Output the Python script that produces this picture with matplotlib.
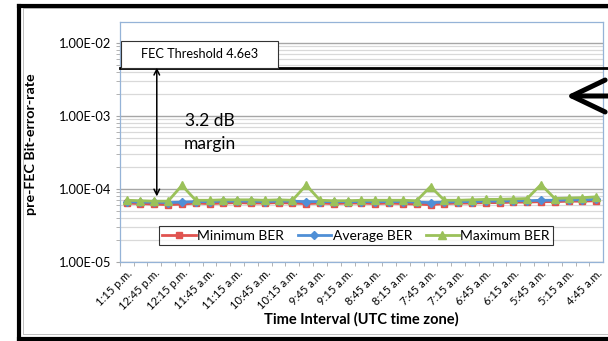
import numpy as np
import matplotlib.pyplot as plt
from matplotlib.lines import Line2D
from matplotlib.ticker import FixedLocator, NullFormatter
from matplotlib.patches import Rectangle

plt.rcParams['font.family'] = ['Lato', 'DejaVu Sans']

# 15-minute intervals, newest first
time_labels = [
    "1:15 p.m.", "1:00 p.m.", "12:45 p.m.", "12:30 p.m.", "12:15 p.m.", "12:00 p.m.",
    "11:45 a.m.", "11:30 a.m.", "11:15 a.m.", "11:00 a.m.", "10:45 a.m.", "10:30 a.m.",
    "10:15 a.m.", "10:00 a.m.", "9:45 a.m.", "9:30 a.m.", "9:15 a.m.", "9:00 a.m.",
    "8:45 a.m.", "8:30 a.m.", "8:15 a.m.", "8:00 a.m.", "7:45 a.m.", "7:30 a.m.",
    "7:15 a.m.", "7:00 a.m.", "6:45 a.m.", "6:30 a.m.", "6:15 a.m.", "6:00 a.m.",
    "5:45 a.m.", "5:30 a.m.", "5:15 a.m.", "5:00 a.m.", "4:45 a.m.",
]

min_ber = np.array([
    6.4, 6.3, 6.2, 6.1, 6.2, 6.4, 6.3, 6.4, 6.5, 6.4, 6.4, 6.5,
    6.4, 6.3, 6.4, 6.3, 6.4, 6.4, 6.3, 6.4, 6.3, 6.2, 6.1, 6.3,
    6.4, 6.4, 6.5, 6.5, 6.6, 6.6, 6.7, 6.7, 6.8, 6.8, 6.9,
]) * 1e-5

avg_ber = np.array([
    6.7, 6.6, 6.6, 6.5, 6.6, 6.7, 6.7, 6.8, 6.8, 6.8, 6.7, 6.8,
    6.8, 6.7, 6.7, 6.7, 6.7, 6.7, 6.7, 6.7, 6.7, 6.6, 6.5, 6.6,
    6.7, 6.7, 6.8, 6.8, 6.9, 6.9, 7.0, 7.0, 7.1, 7.1, 7.2,
]) * 1e-5

max_ber = np.array([
    7.0, 6.9, 6.8, 6.8, 11.2, 7.0, 7.0, 7.1, 7.1, 7.1, 7.0, 7.1,
    7.0, 11.3, 7.0, 6.9, 6.9, 7.0, 7.0, 7.0, 7.0, 6.9, 10.8, 7.0,
    7.0, 7.1, 7.2, 7.2, 7.3, 7.4, 11.5, 7.4, 7.5, 7.6, 7.8,
]) * 1e-5

fec_threshold = 4.6e-3

x = np.arange(len(time_labels))

fig = plt.figure(figsize=(6.08, 3.41), dpi=100)
ax = fig.add_axes([0.197, 0.232, 0.795, 0.703])

ax.set_yscale('log')
ax.set_ylim(1e-5, 1.94e-2)
ax.set_xlim(-0.5, len(x) - 0.5)

# gridlines
ax.yaxis.set_minor_locator(FixedLocator(
    [m * 10.0 ** e for e in range(-5, -1) for m in range(2, 10)]))
ax.yaxis.set_minor_formatter(NullFormatter())
ax.grid(True, which='major', axis='y', color='#a6a6a6', lw=1.0, zorder=0)
ax.grid(True, which='minor', axis='y', color='#d9d9d9', lw=0.9, zorder=0)
ax.set_yticks([1e-5, 1e-4, 1e-3, 1e-2])
ax.set_yticklabels(["1.00E-05", "1.00E-04", "1.00E-03", "1.00E-02"], fontsize=9.3)

ax.set_xticks(x[::2])
ax.set_xticklabels(time_labels[::2], rotation=45, ha='right',
                   rotation_mode='anchor', fontsize=8)
ax.set_xticks(x - 0.5, minor=True)
ax.tick_params(axis='x', which='major', length=0, pad=4)
ax.tick_params(axis='x', which='minor', length=3, color='#a6a6a6')
ax.tick_params(axis='y', which='both', length=3, color='#a6a6a6', pad=3)

for s in ax.spines.values():
    s.set_color('#95b3d7')
    s.set_linewidth(0.9)

ax.plot(x, min_ber, color='#e0534f', lw=2, marker='s', ms=5,
        mec='#e0534f', label='Minimum BER', zorder=3)
ax.plot(x, avg_ber, color='#4f8fd6', lw=2, marker='D', ms=4.5,
        mec='#4f8fd6', label='Average BER', zorder=4)
ax.plot(x, max_ber, color='#9bc15a', lw=2, marker='^', ms=6,
        mec='#9bc15a', label='Maximum BER', zorder=5)

ax.set_ylabel("pre-FEC Bit-error-rate", fontsize=10.3, fontweight='bold')
ax.yaxis.set_label_coords(-0.172, 0.49)
ax.set_xlabel("Time Interval (UTC time zone)", fontsize=10.5, fontweight='bold', labelpad=0)

leg = ax.legend(loc='center', bbox_to_anchor=(0.489, 0.11), ncol=3,
                fontsize=10, frameon=True, fancybox=False, handlelength=2.4,
                handletextpad=0.1, columnspacing=1.0, borderpad=0.25)
leg.get_frame().set_edgecolor('black')
leg.get_frame().set_linewidth(0.8)

# FEC threshold line running out past the plot area
ax.plot([0, 1.01], [fec_threshold, fec_threshold], color='black', lw=2,
        transform=ax.get_yaxis_transform(), clip_on=False, zorder=6)
ax.add_patch(Rectangle((-0.42, fec_threshold), 11.37, 1.065e-2 - fec_threshold,
                       facecolor='white', edgecolor='#333333', lw=0.8, zorder=6))
ax.text(5.25, 7.0e-3, "FEC Threshold 4.6e3", ha='center', va='center',
        fontsize=9.2, zorder=7)

# margin arrow
ax.annotate("", xy=(2.18, 7.9e-5), xytext=(2.18, fec_threshold),
            arrowprops=dict(arrowstyle='<->', color='black', lw=1.1,
                            shrinkA=0, shrinkB=0), zorder=7)
ax.text(6.0, 8.6e-4, "3.2 dB", ha='center', va='center', fontsize=12.5)
ax.text(6.0, 4.1e-4, "margin", ha='center', va='center', fontsize=12.5)

# pointer arrow on the right edge
ax.annotate("", xy=(566, 341 - 96), xycoords='figure pixels',
            xytext=(608, 341 - 96), textcoords='figure pixels',
            arrowprops=dict(arrowstyle='->,head_length=2.4,head_width=1.15',
                            color='black', lw=3.6, capstyle='round',
                            joinstyle='round', shrinkA=0, shrinkB=0))


# outer frame: top, left and bottom edges only
def edge(x0, y0, x1, y1, **kw):
    fig.add_artist(Line2D([x0 / 608, x1 / 608], [1 - y0 / 341, 1 - y1 / 341],
                          transform=fig.transFigure, **kw))


for seg in [(23, 8, 608, 8), (23, 8, 23, 334), (23, 334, 608, 334)]:
    edge(*seg, color='#bfbfbf', lw=0.7)
for seg in [(19, 5.5, 608, 5.5), (19, 5.5, 19, 339), (19, 339, 608, 339)]:
    edge(*seg, color='black', lw=3)

fig.savefig('out.png', dpi=100)
